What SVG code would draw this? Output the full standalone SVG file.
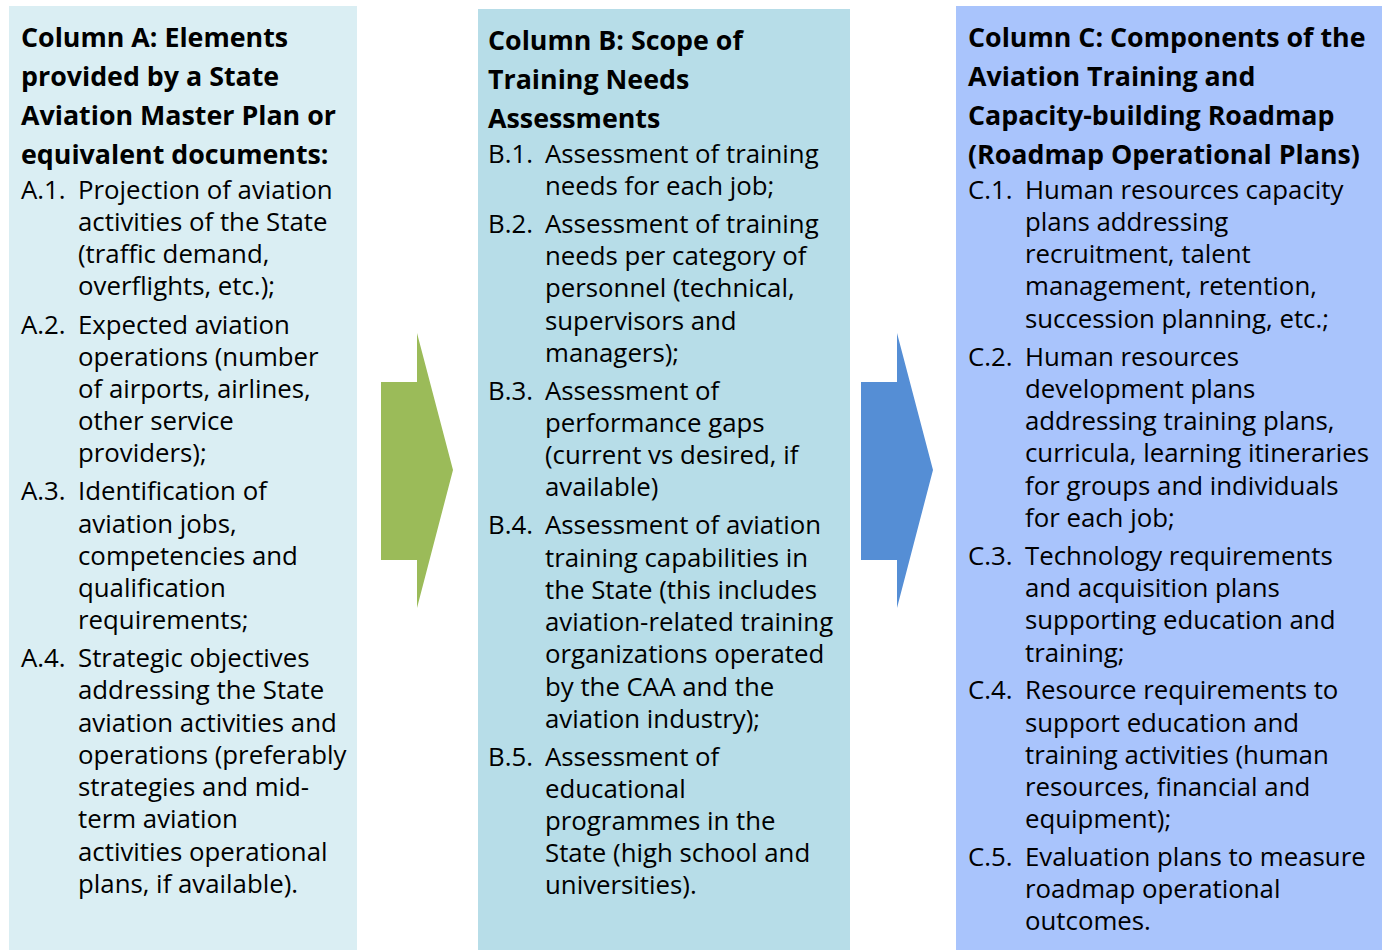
<svg xmlns="http://www.w3.org/2000/svg" width="1382" height="950" viewBox="0 0 1382 950">
<style>
text{font-family:"Open Sans","Noto Sans","Liberation Sans",sans-serif;fill:#000}
.h{font-size:26.8px;font-weight:bold}
.b{font-size:25.8px}
</style>
<rect width="1382" height="950" fill="#fff"/>
<g id="colA">
<rect x="9" y="6" width="348" height="944" fill="#DAEEF3"/>
<text class="h"><tspan x="21" y="47">Column A: Elements</tspan><tspan x="21" y="86">provided by a State</tspan><tspan x="21" y="125">Aviation Master Plan or</tspan><tspan x="21" y="164">equivalent documents:</tspan></text>
<text class="b"><tspan x="21" y="199">A.1.</tspan><tspan x="78" y="199">Projection of aviation</tspan><tspan x="78" y="231">activities of the State</tspan><tspan x="78" y="263">(traffic demand,</tspan><tspan x="78" y="295">overflights, etc.);</tspan></text>
<text class="b"><tspan x="21" y="334">A.2.</tspan><tspan x="78" y="334">Expected aviation</tspan><tspan x="78" y="366">operations (number</tspan><tspan x="78" y="398">of airports, airlines,</tspan><tspan x="78" y="430">other service</tspan><tspan x="78" y="462">providers);</tspan></text>
<text class="b"><tspan x="21" y="500">A.3.</tspan><tspan x="78" y="500">Identification of</tspan><tspan x="78" y="533">aviation jobs,</tspan><tspan x="78" y="565">competencies and</tspan><tspan x="78" y="597">qualification</tspan><tspan x="78" y="629">requirements;</tspan></text>
<text class="b"><tspan x="21" y="667">A.4.</tspan><tspan x="78" y="667">Strategic objectives</tspan><tspan x="78" y="699">addressing the State</tspan><tspan x="78" y="732">aviation activities and</tspan><tspan x="78" y="764">operations (preferably</tspan><tspan x="78" y="796">strategies and mid-</tspan><tspan x="78" y="828">term aviation</tspan><tspan x="78" y="861">activities operational</tspan><tspan x="78" y="893">plans, if available).</tspan></text>
</g>
<g id="colB">
<rect x="478" y="9" width="372" height="941" fill="#B7DDE8"/>
<text class="h"><tspan x="488" y="50">Column B: Scope of</tspan><tspan x="488" y="89">Training Needs</tspan><tspan x="488" y="128">Assessments</tspan></text>
<text class="b"><tspan x="488" y="163">B.1.</tspan><tspan x="545" y="163">Assessment of training</tspan><tspan x="545" y="195">needs for each job;</tspan></text>
<text class="b"><tspan x="488" y="233">B.2.</tspan><tspan x="545" y="233">Assessment of training</tspan><tspan x="545" y="265">needs per category of</tspan><tspan x="545" y="297">personnel (technical,</tspan><tspan x="545" y="330">supervisors and</tspan><tspan x="545" y="362">managers);</tspan></text>
<text class="b"><tspan x="488" y="400">B.3.</tspan><tspan x="545" y="400">Assessment of</tspan><tspan x="545" y="432">performance gaps</tspan><tspan x="545" y="464">(current vs desired, if</tspan><tspan x="545" y="496">available)</tspan></text>
<text class="b"><tspan x="488" y="534">B.4.</tspan><tspan x="545" y="534">Assessment of aviation</tspan><tspan x="545" y="567">training capabilities in</tspan><tspan x="545" y="599">the State (this includes</tspan><tspan x="545" y="631">aviation-related training</tspan><tspan x="545" y="663">organizations operated</tspan><tspan x="545" y="696">by the CAA and the</tspan><tspan x="545" y="728">aviation industry);</tspan></text>
<text class="b"><tspan x="488" y="766">B.5.</tspan><tspan x="545" y="766">Assessment of</tspan><tspan x="545" y="798">educational</tspan><tspan x="545" y="830">programmes in the</tspan><tspan x="545" y="862">State (high school and</tspan><tspan x="545" y="894">universities).</tspan></text>
</g>
<g id="colC">
<rect x="956" y="6" width="426" height="944" fill="#A9C4FC"/>
<text class="h"><tspan x="968" y="47">Column C: Components of the</tspan><tspan x="968" y="86">Aviation Training and</tspan><tspan x="968" y="125">Capacity-building Roadmap</tspan><tspan x="968" y="164">(Roadmap Operational Plans)</tspan></text>
<text class="b"><tspan x="968" y="199">C.1.</tspan><tspan x="1025" y="199">Human resources capacity</tspan><tspan x="1025" y="231">plans addressing</tspan><tspan x="1025" y="263">recruitment, talent</tspan><tspan x="1025" y="295">management, retention,</tspan><tspan x="1025" y="328">succession planning, etc.;</tspan></text>
<text class="b"><tspan x="968" y="366">C.2.</tspan><tspan x="1025" y="366">Human resources</tspan><tspan x="1025" y="398">development plans</tspan><tspan x="1025" y="430">addressing training plans,</tspan><tspan x="1025" y="462">curricula, learning itineraries</tspan><tspan x="1025" y="495">for groups and individuals</tspan><tspan x="1025" y="527">for each job;</tspan></text>
<text class="b"><tspan x="968" y="565">C.3.</tspan><tspan x="1025" y="565">Technology requirements</tspan><tspan x="1025" y="597">and acquisition plans</tspan><tspan x="1025" y="629">supporting education and</tspan><tspan x="1025" y="662">training;</tspan></text>
<text class="b"><tspan x="968" y="699">C.4.</tspan><tspan x="1025" y="699">Resource requirements to</tspan><tspan x="1025" y="732">support education and</tspan><tspan x="1025" y="764">training activities (human</tspan><tspan x="1025" y="796">resources, financial and</tspan><tspan x="1025" y="828">equipment);</tspan></text>
<text class="b"><tspan x="968" y="866">C.5.</tspan><tspan x="1025" y="866">Evaluation plans to measure</tspan><tspan x="1025" y="898">roadmap operational</tspan><tspan x="1025" y="930">outcomes.</tspan></text>
</g>
<g id="connectors">
<polygon id="arrowAB" points="381,382 417,382 417,333 453,470 417,608 417,560 381,560" fill="#9BBB59"/>
<polygon id="arrowBC" points="861,382 897,382 897,333 933,470 897,608 897,560 861,560" fill="#558ED5"/>
</g>
</svg>
